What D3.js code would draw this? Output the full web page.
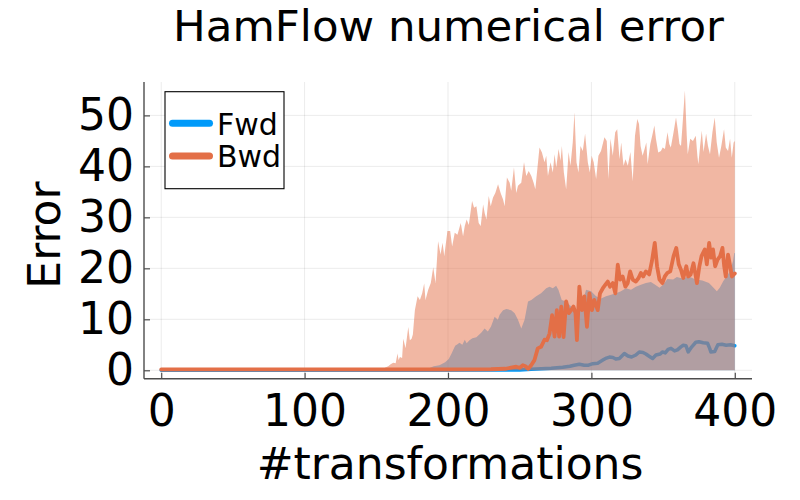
<!DOCTYPE html>
<html>
<head>
<meta charset="utf-8">
<script src="https://cdn.jsdelivr.net/npm/d3@7"></script>
<style>
  html, body { margin: 0; padding: 0; background: #fff; }
  svg { display: block; font-family: "DejaVu Sans", sans-serif; }
</style>
</head>
<body>
<svg id="chart" width="800" height="500"></svg>
<script>
// ---------- data ----------
const titleText = "HamFlow numerical error";
const xLabelText = "#transformations";
const yLabelText = "Error";
const seriesNames = ["Fwd", "Bwd"];
const xTicks = [0, 100, 200, 300, 400];
const yTicks = [0, 10, 20, 30, 40, 50];

// upper edge of the Fwd ribbon [t, value]
const fwdUpper = [[0,0],[184,0],[186,0.3],[190,0.8],[194,1.0],[198,1.6],[200.5,2.2],[202.5,3.3],[203.6,4.0],[205,4.8],[206.6,5.1],[208,5.4],[210,5.0],[211.7,6.0],[213,5.3],[215,5.9],[217,6.3],[219.8,6.5],[223.3,7.4],[225.5,8.2],[227.8,7.6],[230,8.6],[232.5,10.5],[234.8,9.9],[236,10.9],[238.4,11.8],[240.7,12.0],[244.1,11.8],[246.5,11.2],[248.8,9.9],[251.1,8.2],[253.4,9.9],[255.8,13.5],[258.1,13.8],[261.5,14.5],[264.9,15.1],[268.5,16.1],[270.8,16.4],[273.1,16.1],[275.4,16.6],[277,15.8],[279.3,13.8],[282.4,13.5],[285.9,12.5],[289.4,11.8],[292.9,12.5],[296.3,15.8],[299.8,15.5],[303.3,14.5],[306.7,14.1],[310.2,14.5],[313.7,14.8],[317.2,15.1],[320.6,15.5],[324.1,16.1],[327.6,15.8],[331,16.4],[334.5,16.8],[338,17.1],[341.5,17.3],[344.5,16.8],[347.5,16.2],[350,16.8],[353,17.9],[357,17.8],[359.6,18.3],[363.5,18.0],[368,18.4],[372.7,17.8],[377.4,17.6],[382,17.1],[385.5,16.1],[387.5,15.5],[389.5,16.2],[392,17.5],[394.5,18.5],[397,19.6],[398.8,21.5],[399.6,23.0],[400,23.0]];

// upper edge of the Bwd ribbon [t, value]
const bwdUpper = [[0,0],[155,0],[156,0.5],[158.3,0.8],[160,1.2],[161.8,1.5],[163.5,1.4],[164.8,3.3],[165.5,2.0],[166.5,2.6],[168,2.4],[168.8,6.2],[170.4,4.3],[172.3,8.5],[173.4,5.9],[174.6,6.2],[175.5,7.0],[176.9,11.8],[178.8,14.5],[180.4,13.8],[182,15.1],[183.4,17.0],[184.3,13.8],[186.2,15.8],[188,17.1],[189.7,20.2],[191.3,17.1],[193.1,25.3],[194.8,22.7],[196.2,25.0],[197.4,22.4],[199.6,27.3],[201.5,27.3],[202.9,24.3],[204.7,27.0],[206.6,26.6],[208.9,28.9],[210.5,26.3],[211.7,28.3],[213,29.6],[214.5,28.5],[216.8,33.2],[218.2,31.9],[219.8,32.2],[221.4,28.9],[222.8,28.3],[224.5,32.5],[225.6,30.8],[226.8,29.6],[228.4,34.2],[229.8,32.2],[231.4,33.9],[233,34.8],[234.9,36.5],[236.7,34.8],[238.4,33.5],[239.5,32.2],[241.1,37.8],[243,36.8],[244.1,35.2],[246,39.8],[247.6,34.8],[248.8,36.2],[251.1,36.8],[253,40.8],[254.6,38.1],[256.3,39.1],[258.1,38.1],[259.7,36.8],[260.9,35.5],[262.3,39.5],[263.8,43.7],[265.5,42.7],[267.3,40.8],[268.5,42.1],[269.7,38.1],[271.5,40.8],[273.1,38.8],[274.3,42.4],[275.5,39.8],[277.1,43.4],[278.5,41.1],[279.4,44.0],[280.8,38.8],[282.4,35.5],[284.1,42.8],[285.4,40.1],[287,44.7],[288.2,50.6],[289.6,40.8],[291,38.8],[292.4,44.0],[294,43.0],[295.6,46.4],[297.5,40.8],[298.9,38.8],[300.2,42.1],[301.6,40.8],[303.3,37.5],[304.9,42.1],[306.7,43.0],[309.1,45.7],[310.7,45.0],[311.9,37.5],[313.3,45.4],[314.9,42.1],[316.6,46.7],[318,47.3],[319.6,41.4],[320.8,44.7],[322.4,40.1],[323.8,41.4],[325.4,40.1],[327.2,42.8],[328.8,37.1],[330.4,46.0],[332,49.3],[333.2,48.3],[334.3,44.0],[335.7,42.1],[337.1,43.4],[338.3,44.7],[339.2,40.4],[341.1,44.4],[342.7,46.4],[343.9,48.0],[345,45.4],[346.6,42.7],[348.5,43.0],[349.7,43.7],[351.3,43.4],[353.1,46.7],[354.3,44.4],[355.4,43.7],[357.3,46.7],[359,49.6],[360.2,47.3],[361.4,44.4],[362.5,44.0],[363.6,48.3],[365.2,54.9],[366.5,46.0],[367.2,42.4],[368.9,45.4],[370.8,45.0],[372.8,46.0],[373.9,42.1],[374.6,40.4],[375.8,44.0],[377,47.0],[378.2,42.8],[380,46.4],[381.3,44.0],[382.7,42.4],[384.4,46.7],[386,49.6],[387.4,44.7],[389,41.7],[390.6,44.0],[392.5,47.3],[393.7,43.7],[395.3,43.0],[396.7,45.4],[397.9,41.7],[399.2,44.7],[400,45.0]];

// mean curves [t, value]
const fwdMean = [[0,0],[250,0.05],[258,0.2],[265,0.3],[272,0.4],[280,0.6],[285,0.8],[288,1.0],[291.6,1.2],[295,1.0],[298,1.0],[301,1.3],[304.4,1.4],[308,2.0],[310.5,2.4],[312.6,2.6],[315,2.5],[317,2.2],[319.5,2.3],[323,3.3],[325.5,2.8],[328,2.6],[331,3.0],[333.4,3.6],[336,3.5],[338,3.2],[340,2.8],[342.7,2.3],[345,3.0],[348,3.2],[349.5,3.6],[351.5,3.4],[353.5,4.1],[355.5,4.3],[358,3.8],[360,4.0],[362.4,4.6],[364,4.9],[366,4.8],[367.5,3.6],[370,4.6],[372.8,5.5],[375,5.6],[378,5.4],[381,5.3],[382.5,4.3],[383.3,3.6],[386,3.7],[388.2,5.0],[391,5.1],[394,4.9],[397,5.0],[400,4.8]];

const bwdMean = [[0,0.15],[200,0.15],[230,0.2],[240,0.3],[244,0.5],[247.6,0.7],[250,0.5],[252.2,1.0],[254,0.8],[256,0.3],[258,1.0],[260.3,2.0],[262.6,4.3],[264.9,4.6],[267.3,6.0],[269,5.9],[270.8,7.2],[272.6,10.8],[274.3,6.6],[275.9,11.8],[277.5,6.6],[279,12.5],[280.6,6.5],[282.4,13.5],[284.3,11.2],[285.9,11.8],[287.5,12.5],[288.9,11.2],[289.9,5.9],[291.6,16.4],[293.4,11.8],[295.1,14.5],[296.9,8.5],[298.6,15.1],[300.4,11.8],[302,13.8],[304.4,11.8],[306,15.1],[308,16.1],[309.8,16.8],[311.4,17.4],[313,16.4],[314.9,17.1],[316.7,15.1],[318.4,20.7],[320,17.8],[321.8,18.4],[323.7,16.4],[325.3,17.1],[327,19.4],[328.8,17.8],[331,17.4],[332.9,18.1],[334.5,19.1],[336.1,18.4],[338,19.4],[340.3,18.8],[342.2,21.4],[344.2,25.0],[345.8,20.4],[347.5,17.8],[349.5,17.1],[351.2,18.4],[353,19.1],[355,19.4],[357.3,22.4],[359.2,24.0],[360.9,20.8],[362.5,19.7],[364.1,18.1],[366.2,20.4],[367.5,18.4],[369.2,18.8],[371.2,21.0],[373.6,17.1],[375.3,20.4],[376.8,22.4],[379.1,23.7],[380.5,20.8],[382.1,25.0],[383.5,22.1],[384.8,23.7],[386.3,20.4],[388,21.7],[389.8,22.4],[391.4,24.0],[392.6,20.4],[393.7,18.4],[395.3,22.7],[396.8,20.4],[398,18.4],[400,19.0]];

// ---------- layout ----------
const colors = { Fwd: "#009AFA", Bwd: "#E36F47" };
const plot = { left: 144, right: 752, top: 82, bottom: 378.7 };

const svg = d3.select("#chart");
const x = d3.scaleLinear().domain([-12, 412]).range([plot.left, plot.right]);
const y = d3.scaleLinear().domain([-1.65, 56.55]).range([plot.bottom, plot.top]);

// grid
const grid = svg.append("g");
grid.selectAll("line.gx").data(xTicks).join("line")
  .attr("x1", d => x(d)).attr("x2", d => x(d))
  .attr("y1", plot.top).attr("y2", plot.bottom)
  .attr("stroke", "#000").attr("stroke-opacity", 0.1).attr("stroke-width", 0.8);
grid.selectAll("line.gy").data(yTicks).join("line")
  .attr("x1", plot.left).attr("x2", plot.right)
  .attr("y1", d => y(d)).attr("y2", d => y(d))
  .attr("stroke", "#000").attr("stroke-opacity", 0.1).attr("stroke-width", 0.8);

// series
const area = d3.area().x(d => x(d[0])).y0(y(0)).y1(d => y(d[1]));
const line = d3.line().x(d => x(d[0])).y(d => y(d[1]));

svg.append("path").attr("d", area(fwdUpper)).attr("fill", colors.Fwd).attr("fill-opacity", 0.5);
svg.append("path").attr("d", line(fwdMean)).attr("fill", "none").attr("stroke", colors.Fwd)
  .attr("stroke-width", 3.5).attr("stroke-linejoin", "round").attr("stroke-linecap", "round");
svg.append("path").attr("d", area(bwdUpper)).attr("fill", colors.Bwd).attr("fill-opacity", 0.5);
svg.append("path").attr("d", line(bwdMean)).attr("fill", "none").attr("stroke", colors.Bwd)
  .attr("stroke-width", 3.8).attr("stroke-linejoin", "round").attr("stroke-linecap", "round");

// axes
const axisColor = "#4d4d4d";
const xAxis = svg.append("g").attr("transform", `translate(0,${plot.bottom})`)
  .call(d3.axisBottom(x).tickValues(xTicks).tickFormat(d3.format("d"))
        .tickSizeInner(-6).tickSizeOuter(0).tickPadding(16.5));
const yAxis = svg.append("g").attr("transform", `translate(${plot.left},0)`)
  .call(d3.axisLeft(y).tickValues(yTicks).tickFormat(d3.format("d"))
        .tickSizeInner(-6).tickSizeOuter(0).tickPadding(10));
[xAxis, yAxis].forEach(a => {
  a.select(".domain").attr("stroke", axisColor).attr("stroke-width", 1.4);
  a.selectAll(".tick line").attr("stroke", axisColor).attr("stroke-width", 1.2);
  a.selectAll(".tick text").attr("fill", "#000")
    .style("font-family", "'DejaVu Sans', sans-serif").style("font-size", "44px");
});
yAxis.select(".domain").attr("d", `M0,${plot.bottom}V${plot.top}`);
xAxis.select(".domain").attr("d", `M${plot.left},0H${plot.right}`);

// titles
svg.append("text").text(titleText)
  .attr("x", 448.5).attr("y", 40.5).attr("text-anchor", "middle")
  .style("font-size", "43.5px").attr("fill", "#000");
svg.append("text").text(xLabelText)
  .attr("x", 450).attr("y", 479).attr("text-anchor", "middle")
  .style("font-size", "44px").attr("fill", "#000");
svg.append("text").text(yLabelText)
  .attr("transform", "translate(60,235) rotate(-90)").attr("text-anchor", "middle")
  .style("font-size", "44px").attr("fill", "#000");

// legend
const lg = svg.append("g");
lg.append("rect").attr("x", 165).attr("y", 91.7).attr("width", 119).attr("height", 97)
  .attr("fill", "#fff").attr("stroke", "#000").attr("stroke-width", 1.1);
const legendRows = [{ name: seriesNames[0], ly: 123.3, ty: 135 }, { name: seriesNames[1], ly: 156, ty: 167.3 }];
legendRows.forEach(r => {
  lg.append("line").attr("x1", 172.5).attr("x2", 209.5).attr("y1", r.ly).attr("y2", r.ly)
    .attr("stroke", colors[r.name]).attr("stroke-width", 7).attr("stroke-linecap", "round");
  lg.append("text").text(r.name).attr("x", 217).attr("y", r.ty)
    .style("font-size", "30px").attr("fill", "#000");
});
</script>
</body>
</html>
